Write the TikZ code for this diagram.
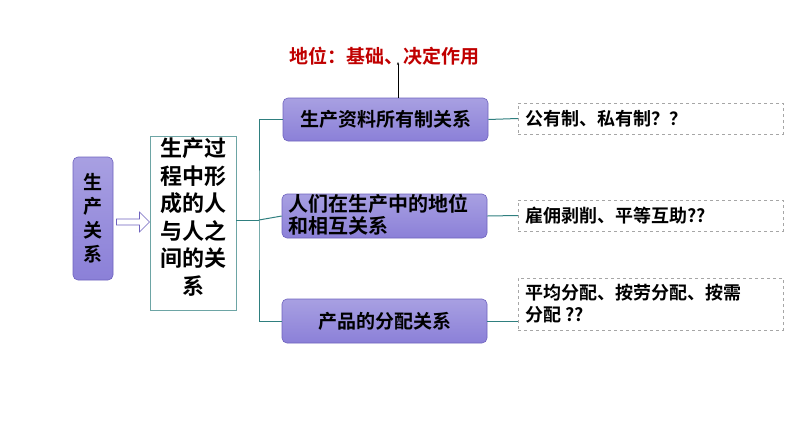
\documentclass[tikz,border=0pt]{standalone}
\usepackage{fontspec}
\setmainfont{Noto Sans CJK SC}[BoldFont={Noto Sans CJK SC Bold}]
\usetikzlibrary{arrows.meta,shapes.arrows}
\definecolor{pur}{HTML}{8B80D8}
\definecolor{purd}{HTML}{6E62BE}
\definecolor{teal}{HTML}{2F7F7F}
\definecolor{dred}{HTML}{C00000}
\begin{document}
\begin{tikzpicture}[x=1pt,y=-1pt,
  pbox/.style={draw=purd,line width=0.6pt,rounded corners=5pt,top color=pur!75!white,bottom color=pur,inner sep=0pt},
  dbox/.style={draw=gray!70,dashed,line width=0.5pt,inner sep=0pt},
  conn/.style={draw=teal,line width=1pt},
  txt/.style={font=\bfseries\fontsize{19}{21}\selectfont}]
\useasboundingbox (0,0) rectangle (794,447);
\node[pbox,minimum width=40pt,minimum height=123pt] (rel) at (93,218.5) {};
\node[align=center,font=\bfseries\fontsize{19}{24}\selectfont] at (rel) {生\\产\\关\\系};
\node[single arrow,draw=purd,fill=white,line width=0.6pt,minimum width=20pt,single arrow head extend=3pt,minimum height=33pt,inner sep=1pt] (arr) at (131.5,222) {};
\node[draw=teal!70,line width=0.6pt,minimum width=86pt,minimum height=174pt,inner sep=0pt] (def) at (193,223) {};
\node[align=center,font=\bfseries\fontsize{22}{27.5}\selectfont] at (193,217) {生产过\\程中形\\成的人\\与人之\\间的关\\系};
\node[pbox,minimum width=205pt,minimum height=43pt] (b1) at (385.5,119.5) {};
\node[txt] at (b1) {生产资料所有制关系};
\node[pbox,minimum width=205pt,minimum height=44pt] (b2) at (384.5,216) {};
\node[align=left,anchor=west,font=\bfseries\fontsize{20}{22}\selectfont] at (285,215) {人们在生产中的地位\\和相互关系};
\node[pbox,minimum width=205pt,minimum height=44pt] (b3) at (384.5,321) {};
\node[txt] at (b3) {产品的分配关系};
\node[dbox,minimum width=265pt,minimum height=31pt] (d1) at (650.5,118.5) {};
\node[anchor=west,font=\bfseries\fontsize{18}{20}\selectfont] at (522,118.5) {公有制、私有制？？};
\node[dbox,minimum width=265pt,minimum height=31pt] (d2) at (650.5,215.5) {};
\node[anchor=west,font=\bfseries\fontsize{18}{20}\selectfont] at (522,215.5) {雇佣剥削、平等互助??};
\node[dbox,minimum width=265pt,minimum height=52pt] (d3) at (650.5,304) {};
\node[anchor=west,align=left,font=\bfseries\fontsize{18}{22}\selectfont] at (522,304) {平均分配、按劳分配、按需\\分配 ??};
\node[text=dred,font=\bfseries\fontsize{19}{21}\selectfont] (top) at (384,56) {地位：基础、决定作用};
\coordinate (j) at (259,220);
\draw[conn] (def.east |- j) -- (j);
\draw[conn] (b1.west) -| (j) |- (b3.west);
\draw[conn] (j) -- (b2.west);
\draw[conn] (b1.east) -- (d1.west);
\draw[conn] (b2.east) -- (d2.west);
\draw[conn] (b3.east) -- (b3.east -| d3.west);
\draw[-{Stealth[length=3pt]},line width=0.7pt] (398,98) -- (398,62);
\end{tikzpicture}
\end{document}
